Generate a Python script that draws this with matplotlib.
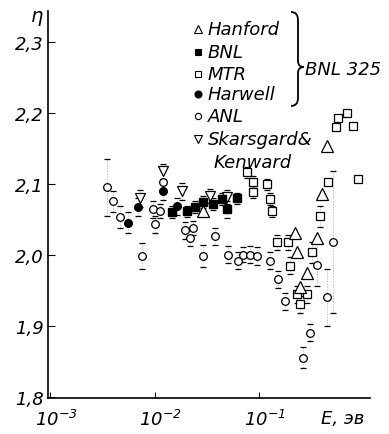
import math
import matplotlib
matplotlib.use("Agg")
import matplotlib.pyplot as plt
import matplotlib.transforms as mtransforms
from matplotlib.lines import Line2D
from matplotlib.path import Path
from matplotlib.patches import PathPatch
from matplotlib.ticker import FixedLocator, FuncFormatter, NullLocator

plt.rcParams["font.family"] = ["DejaVu Sans"]
plt.rcParams["font.style"] = "oblique"
plt.rcParams["mathtext.fontset"] = "custom"
plt.rcParams["mathtext.it"] = "DejaVu Sans:oblique"
plt.rcParams["mathtext.rm"] = "DejaVu Sans:oblique"
plt.rcParams["mathtext.default"] = "it"

W, H = 389, 435

# values: E (eV), eta, error
hanford_E = [0.0291, 0.221, 0.231, 0.247, 0.288, 0.359, 0.40, 0.448]
hanford_eta = [2.062, 2.032, 2.004, 1.956, 1.975, 2.025, 2.086, 2.154]

bnl_E = [0.0147, 0.0205, 0.0244, 0.0291, 0.0363, 0.0443, 0.0494, 0.0615]
bnl_eta = [2.061, 2.062, 2.068, 2.075, 2.072, 2.079, 2.065, 2.080]
bnl_err = [0.008, 0.008, 0.008, 0.008, 0.008, 0.008, 0.012, 0.008]

mtr_E = [0.0767, 0.0877, 0.0877, 0.119, 0.127, 0.133, 0.149, 0.190, 0.198,
         0.231, 0.247, 0.288, 0.321, 0.384, 0.457, 0.546, 0.570, 0.695,
         0.794, 0.885]
mtr_eta = [2.117, 2.103, 2.089, 2.100, 2.079, 2.062, 2.018, 2.018, 1.985,
           1.945, 1.931, 1.945, 2.004, 2.055, 2.103, 2.180, 2.194, 2.201,
           2.182, 2.107]
mtr_err = [0.008, 0.008, 0.008, 0.008, 0.008, 0.008, 0.01, 0.01, 0.012,
           0.012, 0.012, 0.012, 0.015, 0.015, 0.0, 0.0, 0.0, 0.0, 0.0, 0.0]

harwell_E = [0.00557, 0.00695, 0.01205, 0.0164]
harwell_eta = [2.046, 2.068, 2.090, 2.069]
harwell_err = [0.015, 0.012, 0.012, 0.012]

anl_E = [0.00351, 0.00401, 0.00468, 0.00759, 0.00968, 0.0101, 0.0113, 0.0121,
         0.0196, 0.0219, 0.0233, 0.0291, 0.0379, 0.0505, 0.0629, 0.0703,
         0.082, 0.0957, 0.127, 0.152, 0.177, 0.264, 0.308, 0.359, 0.448,
         0.511]
anl_eta = [2.096, 2.076, 2.054, 1.999, 2.065, 2.044, 2.062, 2.103,
           2.035, 2.025, 2.038, 1.999, 2.027, 2.001, 1.992, 2.001,
           2.001, 1.999, 1.992, 1.966, 1.935, 1.856, 1.891, 1.987, 1.941,
           2.018]
anl_err = [0.04, 0.015, 0.015, 0.018, 0.012, 0.012, 0.01, 0.015,
           0.012, 0.012, 0.01, 0.015, 0.012, 0.012, 0.012, 0.01,
           0.012, 0.012, 0.012, 0.012, 0.012, 0.015, 0.012, 0.03, 0.04,
           0.10]

sk_E = [0.0073, 0.0121, 0.0183, 0.034, 0.0494]
sk_eta = [2.080, 2.118, 2.090, 2.083, 2.082]
sk_err = [0.012, 0.01, 0.012, 0.01, 0.01]

legend_names = ["Hanford", "BNL", "MTR", "Harwell", "ANL", "Skarsgard&"]
y_ticks = [1.8, 1.9, 2.0, 2.1, 2.2, 2.3]
x_ticks = [1e-3, 1e-2, 1e-1]


def px(x, y):
    return x / W, 1 - y / H


fig = plt.figure(figsize=(W / 100, H / 100), dpi=100)
ax = fig.add_axes([48 / W, 1 - 399 / H, 322 / W, 387 / H])
ax.set_xscale("log")
ax.set_xlim(9.57e-4, 1.153)
ax.set_ylim(1.799, 2.344)


def errs(E, eta, err):
    eb = ax.errorbar(E, eta, yerr=err, fmt="none", ecolor="k",
                     elinewidth=0.5, capsize=2.5, capthick=0.9, zorder=1)
    for lc in eb[2]:
        lc.set_linestyle((0, (2, 2)))
        lc.set_alpha(0.35)


errs(bnl_E, bnl_eta, bnl_err)
errs(mtr_E, mtr_eta, mtr_err)
errs(harwell_E, harwell_eta, harwell_err)
errs(anl_E, anl_eta, anl_err)
errs(sk_E, sk_eta, sk_err)

ax.plot(anl_E, anl_eta, "o", ms=5.5, mfc="white", mec="k", mew=0.9, zorder=3)
ax.plot(mtr_E, mtr_eta, "s", ms=5.5, mfc="white", mec="k", mew=0.9, zorder=3)
ax.plot(hanford_E, hanford_eta, "^", ms=8, mfc="white", mec="k", mew=0.9, zorder=4)
ax.plot(sk_E, sk_eta, "v", ms=7, mfc="white", mec="k", mew=0.9, zorder=4)
ax.plot(bnl_E, bnl_eta, "s", ms=6, color="k", zorder=5)
ax.plot(harwell_E, harwell_eta, "o", ms=5.5, color="k", zorder=5)

for s in ["top", "right"]:
    ax.spines[s].set_visible(False)
ax.spines["left"].set_linewidth(1.2)
ax.spines["bottom"].set_linewidth(1.2)

ax.yaxis.set_major_locator(FixedLocator(y_ticks))
ax.yaxis.set_major_formatter(FuncFormatter(lambda v, p: f"{v:.1f}".replace(".", ",")))
ax.xaxis.set_major_locator(FixedLocator(x_ticks))
ax.xaxis.set_major_formatter(FuncFormatter(
    lambda v, p: r"$\mathit{10}^{\mathit{%d}}$" % round(math.log10(v))))
ax.xaxis.set_minor_locator(NullLocator())
ax.tick_params(axis="y", direction="in", length=5, width=0.8, labelsize=13, pad=3)
ax.tick_params(axis="x", direction="in", length=4, width=0.8, labelsize=13, pad=8)

shift = mtransforms.ScaledTranslation(6 / 100, 0, fig.dpi_scale_trans)
for lab in ax.get_xticklabels():
    lab.set_transform(lab.get_transform() + shift)
    lab.set_fontstyle("oblique")
for lab in ax.get_yticklabels():
    lab.set_fontstyle("oblique")

fig.text(*px(37, 17), "η", fontsize=14, ha="center", va="center")
fig.text(*px(343, 419), "E, эв", fontsize=13, ha="center", va="center")

# legend block
markers = [("^", "white", 6), ("s", "k", 5), ("s", "white", 4.5),
           ("o", "k", 5), ("o", "white", 4.5), ("v", "white", 5.5)]
rows_y = [30, 53, 75, 95, 117, 140]
for (m, fc, ms), name, yy in zip(markers, legend_names, rows_y):
    fig.add_artist(Line2D([198 / W], [1 - yy / H], marker=m, ms=ms, mfc=fc,
                          mec="k", mew=0.8, ls="none"))
    fig.text(*px(208, yy), name, fontsize=13, ha="left", va="center")
fig.text(*px(214, 163), "Kenward", fontsize=13, ha="left", va="center")

# brace
bx, top, bot, mid = 298, 13, 107, 68
verts = [(bx - 7, top), (bx, top), (bx, top + 8),
         (bx, mid - 6),
         (bx, mid), (bx + 6, mid),
         (bx, mid), (bx, mid + 6),
         (bx, bot - 8),
         (bx, bot), (bx - 7, bot)]
codes = [Path.MOVETO, Path.CURVE3, Path.CURVE3, Path.LINETO,
         Path.CURVE3, Path.CURVE3, Path.CURVE3, Path.CURVE3,
         Path.LINETO, Path.CURVE3, Path.CURVE3]
verts = [px(x, y) for x, y in verts]
fig.add_artist(PathPatch(Path(verts, codes), fill=False, lw=1.3,
                         transform=fig.transFigure))
fig.text(*px(305, 70), "BNL 325", fontsize=13, ha="left", va="center")

fig.savefig("out.png", dpi=100)
